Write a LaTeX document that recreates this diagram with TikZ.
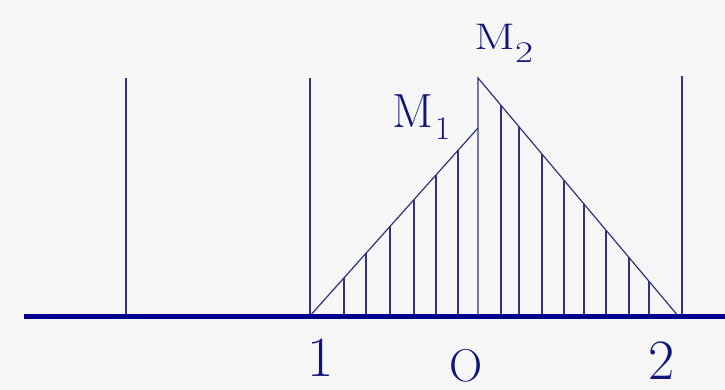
\documentclass[tikz,border=0pt]{standalone}
\usepackage{tikz}
\usetikzlibrary{positioning,calc}
\definecolor{bgwhite}{RGB}{246,246,246}
\definecolor{linenavy}{RGB}{50,50,120}
\definecolor{axisblue}{RGB}{0,0,140}
\definecolor{textblue}{RGB}{15,20,125}
\newcommand{\lowsub}[3]{\raisebox{-#1pt}{\fontsize{#2}{#2}\selectfont #3}}

\begin{document}
\begin{tikzpicture}[x=1pt, y=1pt,
    thinline/.style={draw=linenavy, line width=1.2pt},
    axisline/.style={draw=axisblue, line width=5pt},
    lbl/.style={text=textblue, inner sep=0pt}
]
    % Background
    \fill[bgwhite] (0,0) rectangle (725,390);
    \useasboundingbox (0,0) rectangle (725,390);

    % Corners of the triangle
    \coordinate (p1) at (309,73);
    \coordinate (m1) at (478,262);
    \coordinate (m2) at (478,312);
    \coordinate (p2) at (679,73);

    % Tall verticals
    \coordinate (v1) at (126,312);
    \coordinate (v2) at (310,312);
    \coordinate (v3) at (682,314);
    \draw[thinline] (v1) -- (v1 |- p1);
    \draw[thinline] (v2) -- (v2 |- p1);
    \draw[thinline] (v3) -- (v3 |- p1);

    % Triangle
    \draw[thinline] (p1) -- (m1);
    \draw[thinline, line join=miter] (m2 |- p1) -- (m2) -- (p2);

    % Hatching, left side
    \foreach \t in {0.207,0.337,0.479,0.621,0.751,0.882} {
        \coordinate (h) at ($(p1)!\t!(m1)$);
        \draw[thinline] (h) -- (h |- p1);
    }

    % Hatching, right side
    \foreach \t in {0.114,0.204,0.318,0.428,0.527,0.637,0.751,0.851} {
        \coordinate (h) at ($(m2)!\t!(p2)$);
        \draw[thinline] (h) -- (h |- p1);
    }

    % Axis
    \coordinate (axl) at (24,73);
    \coordinate (axr) at (725,73);
    \draw[axisline] (axl) -- (axr);

    % Labels
    \node[lbl, font=\fontsize{48}{50}\selectfont, anchor=base west] (lm1) at (392,262) {M\kern2pt\lowsub{12}{33}{1}};
    \node[lbl, font=\fontsize{37}{40}\selectfont, anchor=base west, xscale=1.3, transform shape] (lm2) at (474,340) {M\lowsub{13}{30}{2}};
    \node[lbl, font=\fontsize{57}{60}\selectfont] (one) at (321,32) {1};
    \node[lbl, font=\fontsize{46}{50}\selectfont] (orig) at (466,24) {O};
    \node[lbl, font=\fontsize{57}{60}\selectfont] (two) at (662,29) {2};
\end{tikzpicture}
\end{document}
